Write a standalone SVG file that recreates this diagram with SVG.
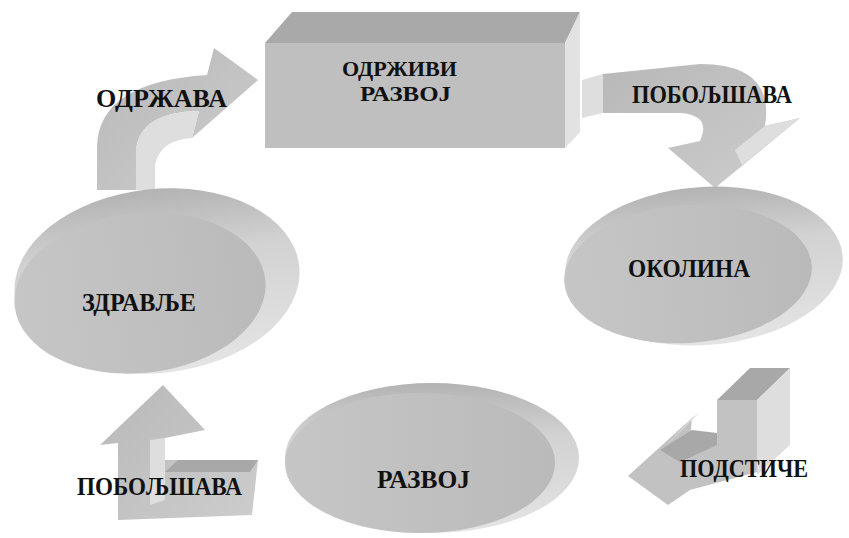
<svg xmlns="http://www.w3.org/2000/svg" width="849" height="538" viewBox="0 0 849 538">
<defs>
<linearGradient id="discBack" x1="0" y1="0" x2="0" y2="1">
<stop offset="0" stop-color="#b3b3b3"/>
<stop offset="0.35" stop-color="#d2d2d2"/>
<stop offset="1" stop-color="#e4e4e4"/>
</linearGradient>
<linearGradient id="discFront" x1="0" y1="0" x2="1" y2="0">
<stop offset="0" stop-color="#c6c6c6"/>
<stop offset="1" stop-color="#bababa"/>
</linearGradient>
<linearGradient id="arrowFill" x1="0" y1="0" x2="1" y2="1">
<stop offset="0" stop-color="#b8b8b8"/>
<stop offset="1" stop-color="#cdcdcd"/>
</linearGradient>
</defs>
<style>
.lbl{font-family:"Liberation Serif","Times New Roman",serif;font-weight:bold;font-size:25px;fill:#111;}
.box{font-size:22px;}
.arrow{fill:url(#arrowFill);}
.light{fill:#dedede;}
.dark{fill:#a8a8a8;}
.mid{fill:#c2c2c2;}
</style>
<rect width="849" height="538" fill="#ffffff"/>

<g id="connectors">
<g id="arrow-odrzava">
<path class="arrow" d="M97,190 L97,145 Q100,82 207,75 L214,48 L258,80 L192,138 L199,111 Q140,112 136,150 L136,190 Z"/>
<path class="light" d="M136,190 L136,150 Q140,112 199,111 L192,138 Q160,140 155,165 L155,190 Z"/>
<text class="lbl" x="96" y="107" textLength="131" lengthAdjust="spacingAndGlyphs">ОДРЖАВА</text>
</g>
<g id="arrow-poboljsava-top">
<path class="light" d="M582,80 L603,74 L603,113 L582,118 Z"/>
<path class="arrow" d="M603,74 L700,64 Q775,64 765,126 L800,118 L715,188 L668,148 L700,141 Q712,115 680,113 L603,113 Z"/>
<path class="light" d="M765,126 L800,118 L742,165 L735,150 Z"/>
<text class="lbl" x="632" y="103" textLength="160" lengthAdjust="spacingAndGlyphs">ПОБОЉШАВА</text>
</g>
<g id="arrow-podstice">
<polygon class="dark" points="717,400 757,400 790,368 750,368"/>
<polygon class="light" points="757,400 790,368 790,445 757,475"/>
<polygon class="mid" points="717,400 757,400 757,472 690,490 668,505 628,476 692,418 690,440 717,433"/>
<polygon class="dark" points="660,450 692,430 717,433 717,445 680,462"/>
<polygon class="light" points="665,447 692,418 700,412 672,440"/>
<text class="lbl" x="680" y="477" textLength="128" lengthAdjust="spacingAndGlyphs">ПОДСТИЧЕ</text>
</g>
<g id="arrow-poboljsava-bottom">
<path class="arrow" d="M100,445 L163,385 L205,430 L165,438 L165,460 L258,460 L252,515 L118,520 L118,443 Z"/>
<polygon class="light" points="150,440 165,438 165,500 150,505"/>
<polygon class="dark" points="165,472 178,460 258,460 250,472"/>
<text class="lbl" x="77" y="495" textLength="165" lengthAdjust="spacingAndGlyphs">ПОБОЉШАВА</text>
</g>
</g>

<g id="node-odrzivi-razvoj">
<polygon points="265,43 292,12 580,12 565,43" fill="#a9a9a9"/>
<rect x="265" y="43" width="300" height="105" fill="#bfbfbf"/>
<polygon points="565,43 580,12 580,132 565,148" fill="#e2e2e2"/>
<text class="lbl box" x="342" y="76" textLength="115" lengthAdjust="spacingAndGlyphs">ОДРЖИВИ</text>
<text class="lbl box" x="360" y="101" textLength="91" lengthAdjust="spacingAndGlyphs">РАЗВОЈ</text>
</g>

<g id="node-zdravlje">
<ellipse cx="157" cy="281" rx="143" ry="92" transform="rotate(-6 157 281)" fill="url(#discBack)"/>
<ellipse cx="140" cy="293" rx="126" ry="80" transform="rotate(-6 140 293)" fill="url(#discFront)"/>
<text class="lbl" x="82" y="311" textLength="114" lengthAdjust="spacingAndGlyphs">ЗДРАВЉЕ</text>
</g>

<g id="node-okolina">
<ellipse cx="704" cy="266" rx="139" ry="79" transform="rotate(-4 704 266)" fill="url(#discBack)"/>
<ellipse cx="688" cy="274" rx="124" ry="69" transform="rotate(-4 688 274)" fill="url(#discFront)"/>
<text class="lbl" x="628" y="277" textLength="122" lengthAdjust="spacingAndGlyphs">ОКОЛИНА</text>
</g>

<g id="node-razvoj">
<ellipse cx="432" cy="458" rx="147" ry="75" fill="url(#discBack)"/>
<ellipse cx="420" cy="463" rx="135" ry="70" fill="url(#discFront)"/>
<text class="lbl" x="377" y="488" textLength="93" lengthAdjust="spacingAndGlyphs">РАЗВОЈ</text>
</g>
</svg>
